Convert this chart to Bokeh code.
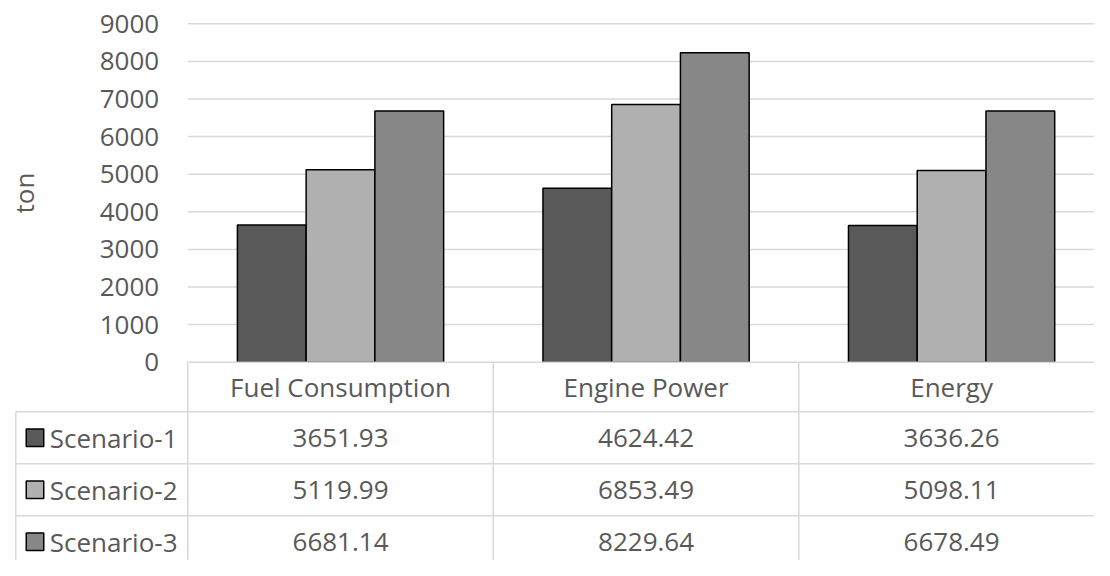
from bokeh.plotting import figure
from bokeh.models import Range1d, ColumnDataSource
from bokeh.core.properties import value
from bokeh.embed import file_html
from bokeh.resources import INLINE

# ---------------- data ----------------
categories = ["Fuel Consumption", "Engine Power", "Energy"]
scenarios = ["Scenario-1", "Scenario-2", "Scenario-3"]
scenario1 = [3651.93, 4624.42, 3636.26]
scenario2 = [5119.99, 6853.49, 5098.11]
scenario3 = [6681.14, 8229.64, 6678.49]
y_ticks = [0, 1000, 2000, 3000, 4000, 5000, 6000, 7000, 8000, 9000]
y_label = "ton"

series = [scenario1, scenario2, scenario3]
colors = ["#595959", "#b0b0b0", "#878787"]

# ---------------- layout helpers (reference pixel -> data) ----------------
REF_W, REF_H = 1110.0, 576.0
COL_PX = 310.0          # width of one category column in reference pixels
ORIGIN_X = 190.0        # reference x of category axis origin
ORIGIN_Y = 372.0        # reference y of value 0
PX_PER_1000 = 348.0 / 9.0


def dx(px):
    return (px - ORIGIN_X) / COL_PX


def dy(py):
    return (ORIGIN_Y - py) / PX_PER_1000 * 1000.0


W, H = 1094, 560
x_start, x_end = dx(0), dx(REF_W)
y_top, y_bottom = dy(0), dy(REF_H)

p = figure(width=W, height=H, output_backend="svg", toolbar_location=None,
           x_range=Range1d(x_start, x_end), y_range=Range1d(y_bottom, y_top),
           min_border_left=0, min_border_right=0, min_border_top=0,
           min_border_bottom=0)
p.xaxis.visible = False
p.yaxis.visible = False
p.xgrid.visible = False
p.ygrid.visible = False
p.outline_line_color = None
p.background_fill_color = "white"
p.border_fill_color = "white"

FONT = value("Open Sans")
TXT = "#595959"
FS = "26px"
GRID = "#d9d9d9"

# gridlines (from plot area start to the right)
p.segment(x0=[0.0] * (len(y_ticks) - 1), x1=[x_end] * (len(y_ticks) - 1),
          y0=y_ticks[1:], y1=y_ticks[1:], line_color=GRID, line_width=1.5)

# y tick labels
p.text(x=[dx(161)] * len(y_ticks), y=y_ticks, text=[str(t) for t in y_ticks],
       text_font=FONT, text_font_size=FS, text_color=TXT,
       text_align="right", text_baseline="middle")

# axis title
p.text(x=[dx(24)], y=[(y_ticks[0] + y_ticks[-1]) / 2], text=[y_label],
       angle=1.5708, text_font=FONT, text_font_size=FS, text_color=TXT,
       text_align="center", text_baseline="middle")

# bars
bar_w = 0.225
for s, vals in enumerate(series):
    xs = [i + 0.5 + (s - 1) * bar_w for i in range(len(categories))]
    src = ColumnDataSource(dict(x=xs, top=vals))
    p.vbar(x="x", top="top", bottom=0, width=bar_w, source=src,
           fill_color=colors[s], line_color="black", line_width=1.5)

# ---------------- data table ----------------
header_h = dy(423) - dy(372)          # negative heights in data units
row_h = dy(476.5) - dy(423)
row_tops = [header_h + k * row_h for k in range(len(scenarios))]
row_centers = [t + row_h / 2 for t in row_tops]
x_left = dx(15.5)

# horizontal lines
p.segment(x0=[0.0], x1=[x_end], y0=[0.0], y1=[0.0], line_color=GRID, line_width=1.5)
p.segment(x0=[x_left] * len(row_tops), x1=[x_end] * len(row_tops),
          y0=row_tops, y1=row_tops, line_color=GRID, line_width=1.5)
# vertical lines
p.segment(x0=list(range(len(categories))), x1=list(range(len(categories))),
          y0=[0.0] * len(categories), y1=[y_bottom] * len(categories),
          line_color=GRID, line_width=1.5)
p.segment(x0=[x_left], x1=[x_left], y0=[header_h], y1=[y_bottom],
          line_color=GRID, line_width=1.5)

# header
p.text(x=[i + 0.5 for i in range(len(categories))], y=[header_h / 2] * len(categories),
       text=categories, text_font=FONT, text_font_size=FS, text_color=TXT,
       text_align="center", text_baseline="middle")

# values
for s, vals in enumerate(series):
    p.text(x=[i + 0.5 for i in range(len(categories))], y=[row_centers[s]] * len(vals),
           text=[f"{v:.2f}" for v in vals], text_font=FONT, text_font_size=FS,
           text_color=TXT, text_align="center", text_baseline="middle")

# legend keys + series names
p.scatter(x=[dx(35)] * len(scenarios), y=row_centers, marker="square", size=17.5,
          fill_color=colors, line_color="black", line_width=1.5)
p.text(x=[dx(50)] * len(scenarios), y=row_centers, text=scenarios,
       text_font=FONT, text_font_size=FS, text_color=TXT,
       text_align="left", text_baseline="middle")

open("out.html", "w").write(file_html(p, INLINE))
